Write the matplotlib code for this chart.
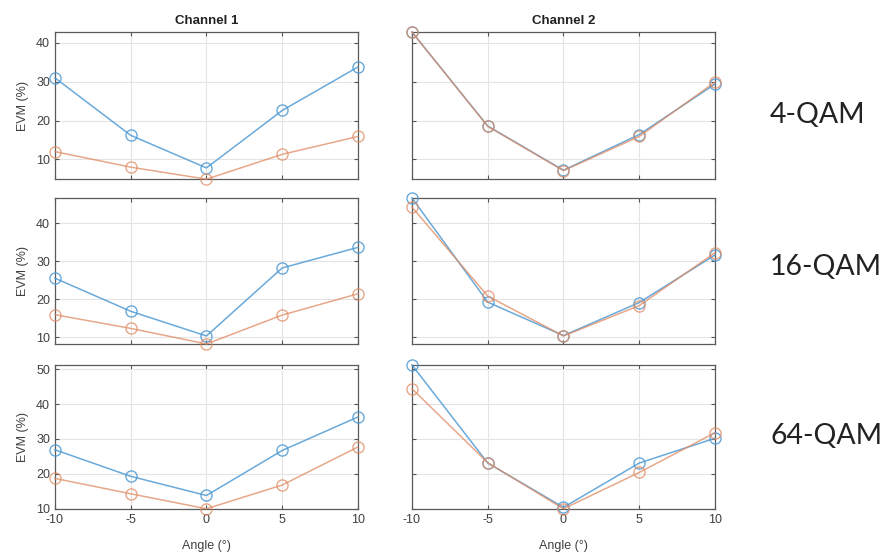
import numpy as np
import matplotlib.pyplot as plt

# angles (degrees)
angle = [-10, -5, 0, 5, 10]

# EVM (%) per modulation, channel and series
ch1_blue_4qam = [31.0, 16.2, 7.8, 22.6, 33.8]
ch1_orange_4qam = [12.0, 8.0, 4.9, 11.3, 15.9]
ch2_blue_4qam = [42.8, 18.6, 7.2, 16.4, 29.4]
ch2_orange_4qam = [42.8, 18.5, 7.1, 15.9, 29.9]

ch1_blue_16qam = [25.5, 16.8, 10.3, 28.2, 33.6]
ch1_orange_16qam = [15.9, 12.3, 8.2, 15.8, 21.4]
ch2_blue_16qam = [46.6, 19.2, 10.4, 19.1, 31.6]
ch2_orange_16qam = [44.2, 20.8, 10.3, 18.3, 32.2]

ch1_blue_64qam = [26.9, 19.3, 13.8, 26.7, 36.3]
ch1_orange_64qam = [18.7, 14.3, 10.0, 16.8, 27.7]
ch2_blue_64qam = [51.2, 23.1, 10.4, 23.1, 30.2]
ch2_orange_64qam = [44.4, 23.2, 10.0, 20.4, 31.8]

row_names = ['4-QAM', '16-QAM', '64-QAM']
col_titles = ['Channel 1', 'Channel 2']

rows = [
    ((ch1_blue_4qam, ch1_orange_4qam), (ch2_blue_4qam, ch2_orange_4qam)),
    ((ch1_blue_16qam, ch1_orange_16qam), (ch2_blue_16qam, ch2_orange_16qam)),
    ((ch1_blue_64qam, ch1_orange_64qam), (ch2_blue_64qam, ch2_orange_64qam)),
]
yticks = [[10, 20, 30, 40], [10, 20, 30, 40], [10, 20, 30, 40, 50]]

blue = '#4f9bd4'
orange = '#e08a62'
txt = '#404040'

plt.rcParams['font.family'] = ['Liberation Sans', 'DejaVu Sans']
plt.rcParams['font.size'] = 9
plt.rcParams['axes.unicode_minus'] = False

fig = plt.figure(figsize=(8.86, 5.53), dpi=100)

lefts = [0.062, 0.465]
width = 0.342
bottoms = [0.676, 0.378, 0.080]
heights = [0.266, 0.264, 0.260]
label_y = [1 - 115 / 553, 1 - 267 / 553, 1 - 436 / 553]

for r, (pair1, pair2) in enumerate(rows):
    allv = np.concatenate([pair1[0], pair1[1], pair2[0], pair2[1]])
    ylo, yhi = allv.min(), allv.max()
    for c, (b, o) in enumerate((pair1, pair2)):
        ax = fig.add_axes([lefts[c], bottoms[r], width, heights[r]])
        ax.plot(angle, b, '-o', color=blue, lw=1.1, ms=8, mfc='none', mew=1.0,
                alpha=0.85, clip_on=False, zorder=3)
        ax.plot(angle, o, '-o', color=orange, lw=1.1, ms=8, mfc='none', mew=1.0,
                alpha=0.75, clip_on=False, zorder=3)
        ax.set_xlim(-10, 10)
        ax.set_ylim(ylo, yhi)
        ax.set_xticks(angle)
        ax.set_yticks(yticks[r])
        ax.grid(True, color='#e4e4e4', lw=0.8)
        ax.set_axisbelow(True)
        ax.tick_params(direction='in', top=True, right=True, length=3,
                       colors='#555555', labelcolor=txt, labelsize=9)
        for s in ax.spines.values():
            s.set_color('#5a5a5a')
            s.set_linewidth(0.9)
        if c == 0:
            ax.set_ylabel('EVM (%)', color=txt, labelpad=5)
        else:
            ax.set_yticklabels([])
        if r == 0:
            ax.set_title(col_titles[c], fontweight='bold', fontsize=9.5,
                         color='#222222', pad=6)
        if r == 2:
            ax.set_xlabel('Angle (°)', color=txt, labelpad=10)
        else:
            ax.set_xticklabels([])

    fig.text(770 / 886, label_y[r], row_names[r],
             fontsize=20.5, family=['Lato', 'DejaVu Sans'], color='#222222',
             ha='left', va='center')

fig.savefig('out.png', dpi=100)
